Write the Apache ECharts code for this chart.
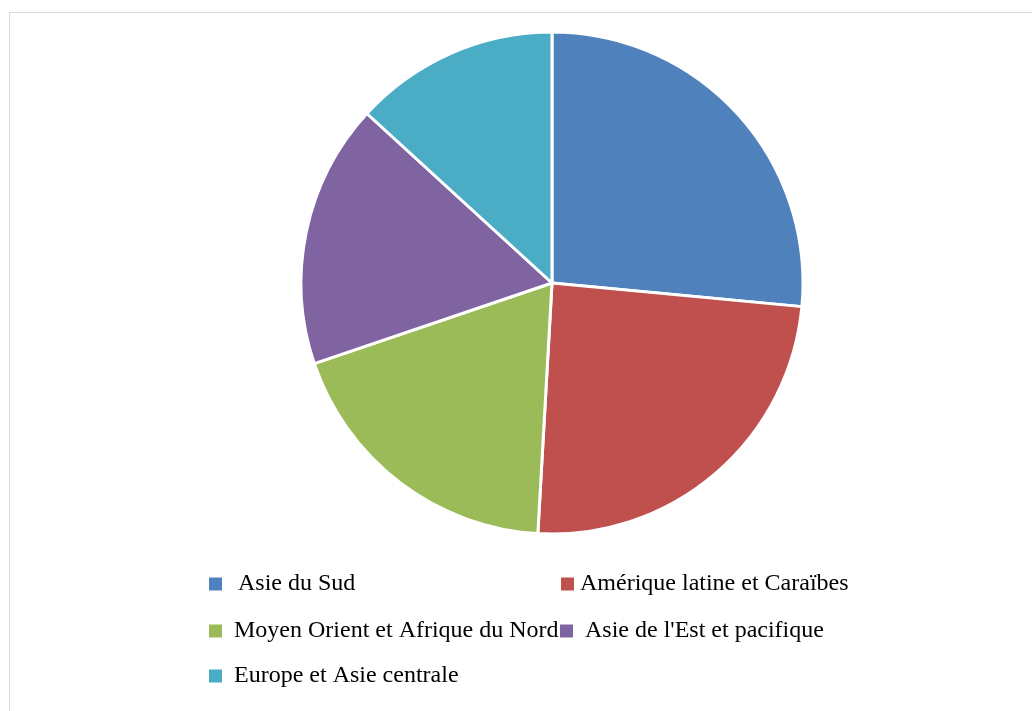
<!DOCTYPE html>
<html><head><meta charset="utf-8">
<script src="https://cdn.jsdelivr.net/npm/echarts@6/dist/echarts.min.js"></script>
<style>html,body{margin:0;padding:0;background:#fff}#c{width:1032px;height:711px}</style>
</head><body><div id="c"></div>
<script>
const categories = ['Asie du Sud', 'Amérique latine et Caraïbes', 'Moyen Orient et Afrique du Nord', "Asie de l'Est et pacifique", 'Europe et Asie centrale'];
const values = [26.5, 24.4, 18.9, 17.0, 13.2];
const colors = ['#4F81BD', '#C0504D', '#9BBB59', '#8064A2', '#4BACC6'];

const legendPos = [
  {left: 209, top: 572, gap: 11},
  {left: 561, top: 572, gap: 1},
  {left: 209, top: 619, gap: 7},
  {left: 560, top: 619, gap: 7},
  {left: 209, top: 664, gap: 7}
];
const legends = categories.map((c, i) => ({
  data: [c],
  left: legendPos[i].left,
  top: legendPos[i].top,
  orient: 'horizontal',
  itemWidth: 13,
  itemHeight: 13,
  itemGap: 0,
  padding: 0,
  icon: 'rect',
  itemStyle: {borderWidth: 0},
  selectedMode: false,
  textStyle: {fontFamily: 'Liberation Serif', fontSize: 24, color: '#000', padding: [0, 0, 0, legendPos[i].gap]}
}));

const chart = echarts.init(document.getElementById('c'));
chart.setOption({
  animation: false,
  color: colors,
  graphic: [{
    type: 'rect', left: 7, top: 10,
    shape: {width: 1040, height: 720},
    style: {fill: 'none', stroke: '#d9d9d9', lineWidth: 1}, silent: true
  }],
  legend: legends,
  series: [{
    type: 'pie',
    center: [552, 283],
    radius: [0, 251],
    startAngle: 90,
    clockwise: true,
    label: {show: false},
    labelLine: {show: false},
    itemStyle: {borderColor: '#fff', borderWidth: 3},
    data: categories.map((c, i) => ({name: c, value: values[i]}))
  }]
});
</script></body></html>
